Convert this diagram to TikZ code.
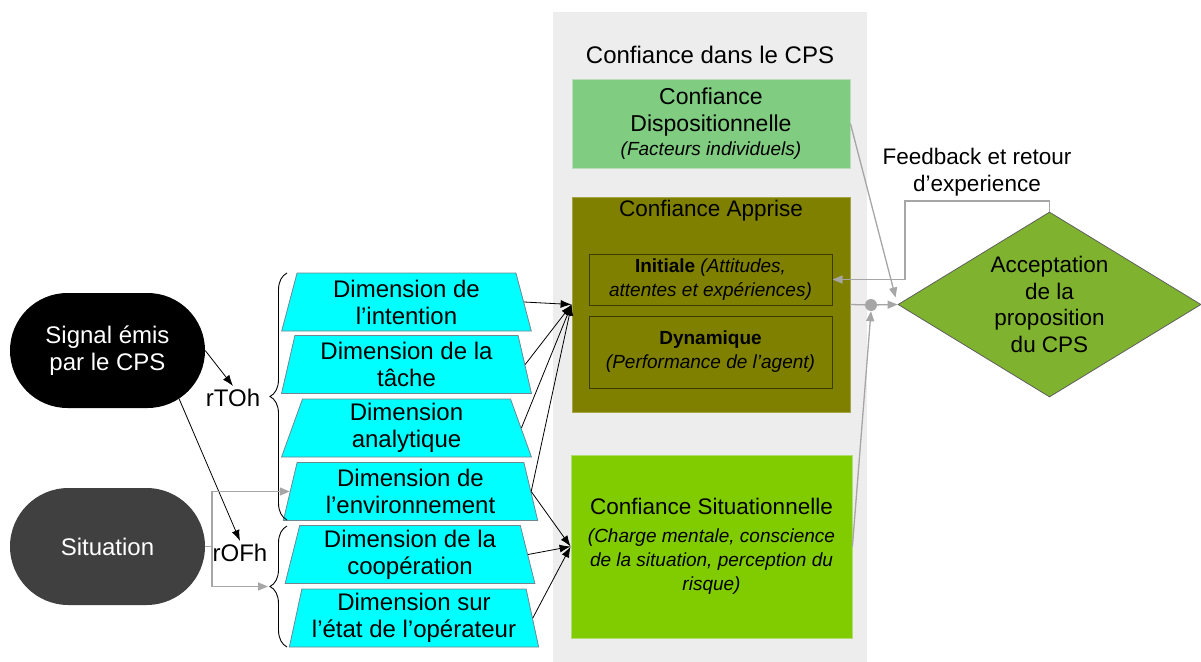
\documentclass[tikz,border=0pt]{standalone}
\usepackage{fontspec}
\setmainfont{Liberation Sans}
\usetikzlibrary{shapes.geometric,shapes.misc,decorations.pathreplacing,arrows.meta,calc}
\definecolor{dimcyan}{RGB}{0,255,255}
\definecolor{dimborder}{RGB}{110,135,145}
\definecolor{sitgray}{RGB}{64,64,64}
\definecolor{panelgray}{RGB}{237,237,237}
\definecolor{dispgreen}{RGB}{128,204,128}
\definecolor{dispborder}{RGB}{185,222,185}
\definecolor{appolive}{RGB}{128,128,0}
\definecolor{appborder}{RGB}{165,165,70}
\definecolor{innerborder}{RGB}{60,60,0}
\definecolor{situgreen}{RGB}{128,204,0}
\definecolor{situborder}{RGB}{175,222,110}
\definecolor{accgreen}{RGB}{127,178,46}
\definecolor{accborder}{RGB}{95,95,95}
\definecolor{gry}{RGB}{166,166,166}
\newcommand\mainfs{\fontsize{22.5}{27}\selectfont}
\newcommand\bigfs{\fontsize{24}{27}\selectfont}
\newcommand\smallfs{\fontsize{19}{24}\selectfont}
\begin{document}
\begin{tikzpicture}[x=1pt,y=-1pt,
  stadium/.style={rounded rectangle, minimum width=195pt, minimum height=115pt, inner sep=0pt, text=white, font=\bigfs, align=center},
  dimbox/.style={trapezium, trapezium left angle=77, trapezium right angle=77, trapezium stretches=true, minimum width=250pt, minimum height=58pt, inner sep=0pt, fill=dimcyan, draw=dimborder, line width=0.8pt, font=\bigfs, align=center},
  bracedeco/.style={decorate, decoration={brace, amplitude=17pt}, draw=black, line width=0.9pt},
  lbl/.style={font=\bigfs, inner sep=3pt},
  blk/.style={draw=black, line width=0.8pt, -{Latex[length=11pt,width=8pt]}},
  gryline/.style={draw=gry, line width=1.3pt},
  gryarrow/.style={draw=gry, line width=1.3pt, -{Triangle[length=10pt,width=8pt]}},
  boxstyle/.style={rectangle, inner sep=0pt, align=center, font=\mainfs, line width=0.8pt},
  innerbox/.style={rectangle, inner sep=0pt, align=center, font=\smallfs, fill=appolive, draw=innerborder, line width=1pt, minimum width=243pt}
]
\useasboundingbox (0,0) rectangle (1201,661);
% panel
\node[rectangle, fill=panelgray, minimum width=314pt, minimum height=650pt, inner sep=0pt] (panel) at (710,337) {};
% left stadiums
\node[stadium, fill=black] (sig) at (107.5,350.5) {Signal émis\\par le CPS};
\node[stadium, fill=sitgray, minimum height=117pt] (sit) at (107.5,546.5) {Situation};
% dimension trapezoids
\node[dimbox] (d1) at (406.5,302) {Dimension de\\l’intention};
\node[dimbox] (d2) at (406.5,364.5) {Dimension de la\\tâche};
\node[dimbox] (d3) at (406.5,428) {Dimension\\analytique};
\node[dimbox, minimum width=255pt] (d4) at (410.5,491.5) {Dimension de\\l’environnement};
\node[dimbox] (d5) at (410,554.5) {Dimension de la\\coopération};
\node[dimbox] (d6) at (414,618) {Dimension sur\\l’état de l’opérateur};
% braces
\draw[bracedeco] (287,520) -- (287,273);
\draw[bracedeco] (287,647) -- (287,526);
\coordinate (b2) at (268,586.5);
\node[lbl] (rtoh) at (233,398) {rTOh};
\node[lbl] (rofh) at (240,553) {rOFh};
\draw[blk] (sig.east) -- (rtoh.north);
\draw[blk] (sig.-34) -- (rofh.north);
% gray fork from situation
\coordinate (fork) at (212,546.5);
\draw[gryline] (sit.east) -- (fork);
\draw[gryarrow] (fork) |- (d4.west);
\draw[gryarrow] (fork) |- (b2);
% right panel boxes
\node[font=\bigfs] (ttl) at (710,55) {Confiance dans le CPS};
\node[boxstyle, fill=dispgreen, draw=dispborder, minimum width=278pt, minimum height=89pt] (disp) at (711,123.5) {\fontsize{23}{27}\selectfont Confiance\\\fontsize{23}{27}\selectfont Dispositionnelle\\[-3pt]{\smallfs\itshape (Facteurs individuels)}};
\node[boxstyle, fill=appolive, draw=appborder, minimum width=278pt, minimum height=215pt] (app) at (711,304.5) {};
\node[font=\mainfs] (apptl) at (711,211) {Confiance Apprise};
\node[innerbox, minimum height=51pt] (ini) at (710.5,279.5) {\textbf{Initiale} \textit{(Attitudes,}\\\textit{attentes et expériences)}};
\node[innerbox, minimum height=72pt] (dyn) at (710.5,352) {\textbf{Dynamique}\\\textit{(Performance de l’agent)}};
\node[boxstyle, fill=situgreen, draw=situborder, minimum width=281pt, minimum height=183pt] (situ) at (711.5,546.5) {Confiance Situationnelle\\[1pt]\smallfs\itshape (Charge mentale, conscience\\[-3pt]\smallfs\itshape de la situation, perception du\\[-3pt]\smallfs\itshape risque)};
% arrows into trust boxes
\foreach \n in {d1,d2,d3,d4} \draw[blk] (\n.east) -- (app.west);
\foreach \n in {d4,d5,d6} \draw[blk] (\n.east) -- (situ.west);
% acceptance diamond
\node[diamond, shape aspect=1.64, fill=accgreen, draw=accborder, line width=0.8pt, minimum width=303pt, minimum height=185pt, inner sep=0pt, font=\mainfs, align=center] (acc) at (1049.5,304.5) {Acceptation\\[-0.5pt]de la\\[-0.5pt]proposition\\[-0.5pt]du CPS};
\node[circle, fill=gry, inner sep=0pt, minimum size=12pt] (dot) at (871,305) {};
\draw[gryline] (app.east) -- (dot);
\draw[gryarrow] (dot) -- (acc.west);
\draw[gryarrow] (situ.east) -- (dot.south);
\draw[gryarrow] (disp.east) -- ($(acc.west)+(-2,-7)$);
% feedback loop
\coordinate (fbA) at (1049.5,201);
\coordinate (fbB) at (905,201);
\coordinate (fbC) at (905,279.5);
\draw[gryarrow] (acc.north) -- (fbA) -- (fbB) -- (fbC) -- (ini.east);
\node[font=\mainfs, align=center] (fb) at (977,172) {Feedback et retour\\d’experience};
\end{tikzpicture}
\end{document}
